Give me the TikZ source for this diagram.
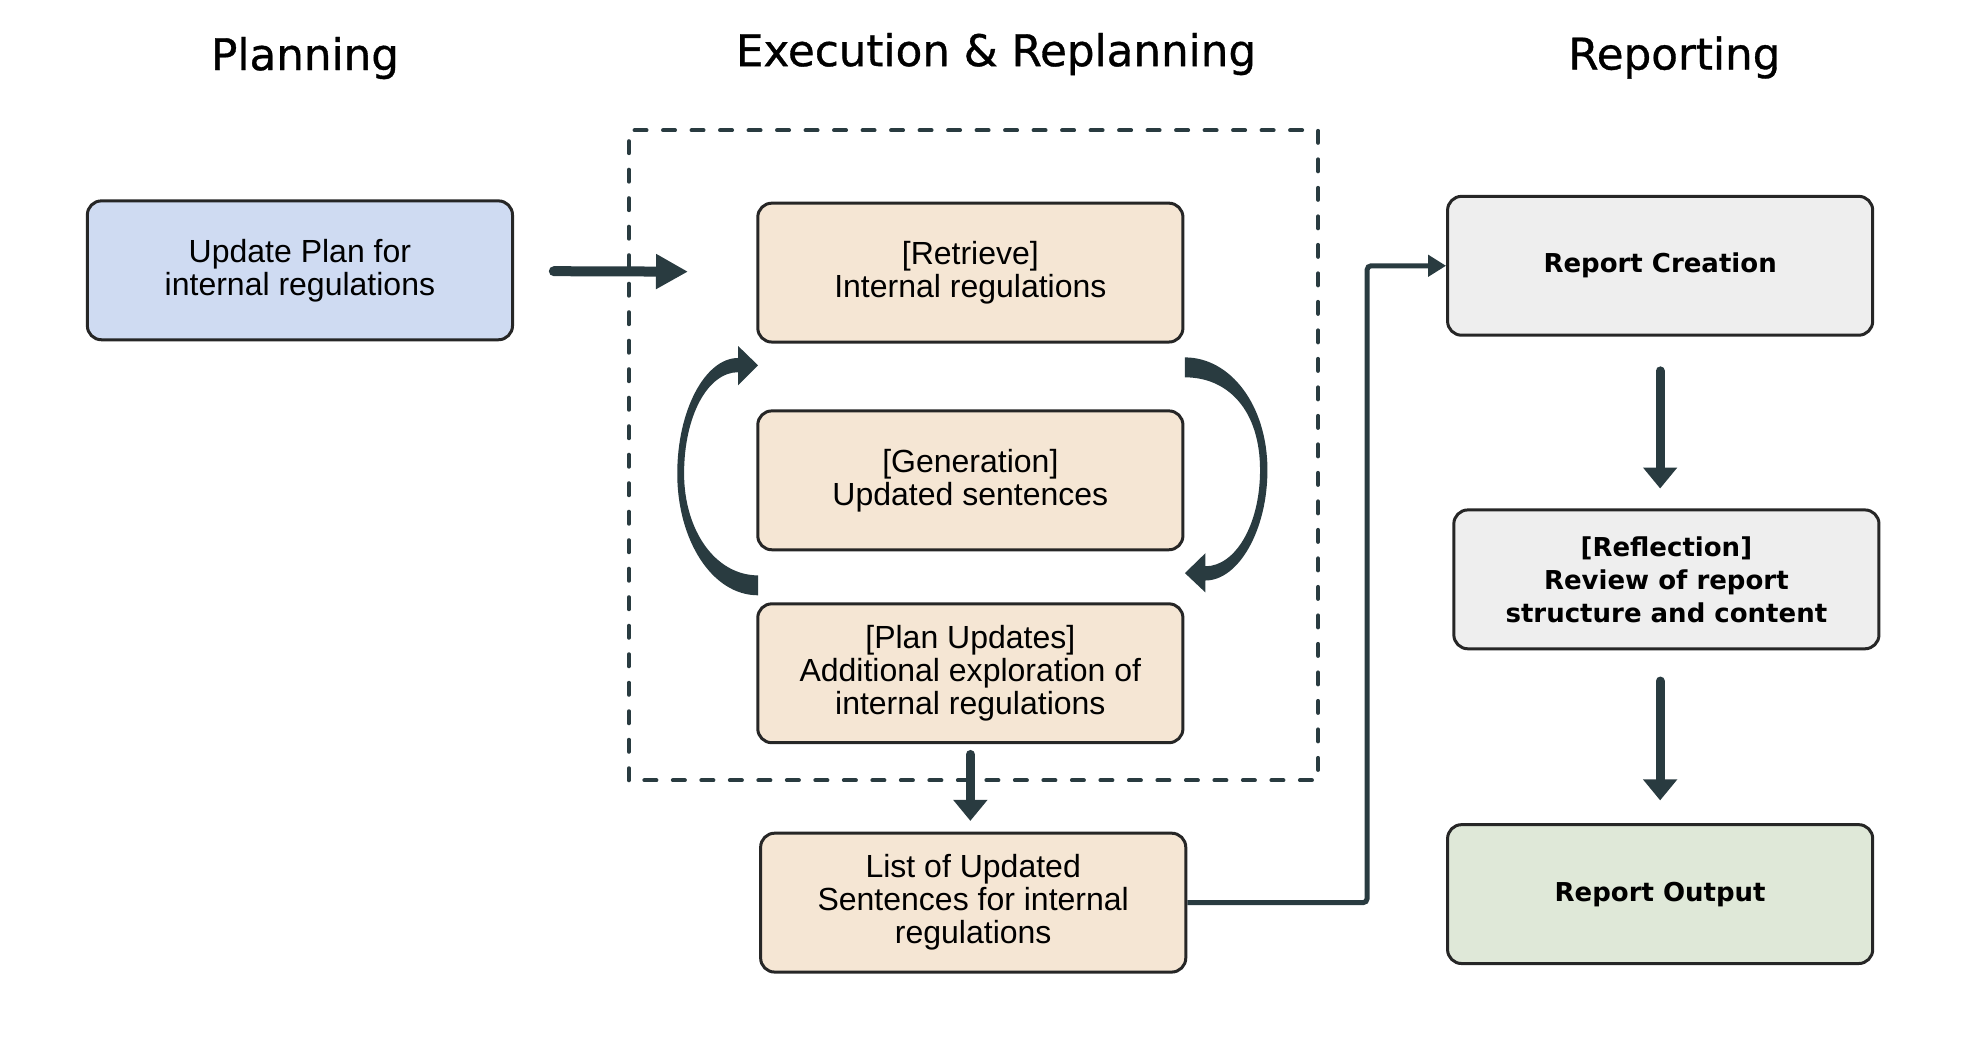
\documentclass[tikz,border=0pt]{standalone}
\usepackage{fontspec}
\setmainfont{Liberation Sans}
\newfontfamily\widefont{DejaVu Sans}
\newfontfamily\phasefont[FakeBold=0.8]{DejaVu Sans}
\usepackage{tikz}
\usetikzlibrary{arrows.meta, positioning, calc}
\definecolor{mydark}{RGB}{41,59,64}
\definecolor{myedge}{RGB}{38,38,38}
\definecolor{hdrblue}{RGB}{207,219,242}
\definecolor{hdrtan}{RGB}{245,230,212}
\definecolor{hdrgrey}{RGB}{238,238,238}
\definecolor{hdrgreen}{RGB}{223,232,216}
\tikzset{
  stagebox/.style={rectangle, draw=myedge, minimum width=7.47cm,
    minimum height=2.44cm, align=center, rounded corners=7pt,
    line width=1.5pt, inner sep=2pt},
  planbox/.style={stagebox, fill=hdrblue, font=\fontsize{16}{16.5}\selectfont},
  workbox/.style={stagebox, fill=hdrtan, font=\fontsize{16}{16.5}\selectfont},
  reportbox/.style={stagebox, fill=hdrgrey,
    font=\widefont\bfseries\fontsize{13}{16.5}\selectfont},
  outbox/.style={reportbox, fill=hdrgreen},
  phase/.style={font=\phasefont\fontsize{21.8}{26}\selectfont},
  fatarrow/.style={-{Triangle[length=10.5pt, width=16.5pt]}, line width=4.5pt,
    line cap=round, color=mydark},
  elbowarrow/.style={-{Triangle[length=9pt, width=10.5pt]}, line width=2.5pt,
    color=mydark, rounded corners=2pt},
  loopfill/.style={fill=mydark, draw=none},
  stagefence/.style={draw=mydark, line width=2pt, line cap=round,
    dash pattern=on 6pt off 8.25pt}
}

\begin{document}
\begin{tikzpicture}[>=Stealth, thick]
  \useasboundingbox (0,0) rectangle (34.65,18.35);

  % Phase titles
  \node[phase] (tplan) at (5.36, 17.33) {Planning};
  \node[phase] (texec) at (17.50, 17.40) {Execution \& Replanning};
  \node[phase] (trep) at (29.42, 17.34) {Reporting};

  % Planning
  \node[planbox] (plan) at (5.27, 13.60) {Update Plan for\\internal regulations};

  % Execution and replanning loop
  \draw[stagefence] (11.05, 4.64) rectangle (23.16, 16.06);
  \node[workbox] (retr) at (17.05, 13.56) {[Retrieve]\\Internal regulations};
  \node[workbox] (gen) at (17.05, 9.91) {[Generation]\\Updated sentences};
  \node[workbox] (upd) at (17.05, 6.52) {[Plan Updates]\\Additional exploration of\\internal regulations};
  \node[workbox] (list) at (17.10, 2.49) {List of Updated\\Sentences for internal\\regulations};

  % Reporting
  \node[reportbox] (rcre) at (29.17, 13.68) {Report Creation};
  \node[reportbox] (refl) at (29.28, 8.17) {[Reflection]\\Review of report\\structure and content};
  \node[outbox] (rout) at (29.17, 2.64) {Report Output};

  % Loop arrows
  % back up to Retrieve
  \fill[loopfill] (13.32, 7.89) .. controls (12.51, 7.89) and (11.90, 8.86) .. (11.90, 10.03)
    .. controls (11.90, 11.14) and (12.39, 12.06) .. (12.97, 12.06)
    -- (12.97, 12.27) -- (13.32, 11.93) -- (12.97, 11.58) -- (12.97, 11.81)
    .. controls (12.44, 11.81) and (12.02, 11.05) .. (12.02, 10.03)
    .. controls (12.02, 9.03) and (12.57, 8.24) .. (13.32, 8.24) -- cycle;
  % down to Plan Updates
  \fill[loopfill] (20.82, 12.07) .. controls (21.62, 12.07) and (22.27, 11.23) .. (22.27, 10.09)
    .. controls (22.27, 9.03) and (21.76, 8.15) .. (21.18, 8.15)
    -- (21.18, 7.94) -- (20.82, 8.28) -- (21.18, 8.63) -- (21.18, 8.40)
    .. controls (21.70, 8.40) and (22.14, 9.12) .. (22.14, 10.09)
    .. controls (22.14, 11.14) and (21.58, 11.72) .. (20.82, 11.72) -- cycle;

  % Flow arrows
  \draw[fatarrow, -{Triangle[length=16pt, width=16.5pt]}, line width=5pt,
    shorten <=0.70cm, shorten >=1.20cm] (plan) -- (retr);
  \draw[fatarrow, shorten <=0.18cm, shorten >=0.19cm] (upd.south) -- (upd.south |- list.north);
  \draw[elbowarrow] (list.east) -- ++(3.16,0) |- (rcre.west);
  \draw[fatarrow, shorten <=0.60cm, shorten >=0.35cm] (rcre.south) -- (rcre.south |- refl.north);
  \draw[fatarrow, shorten <=0.54cm, shorten >=0.40cm] (rout.north |- refl.south) -- (rout.north);
\end{tikzpicture}
\end{document}
